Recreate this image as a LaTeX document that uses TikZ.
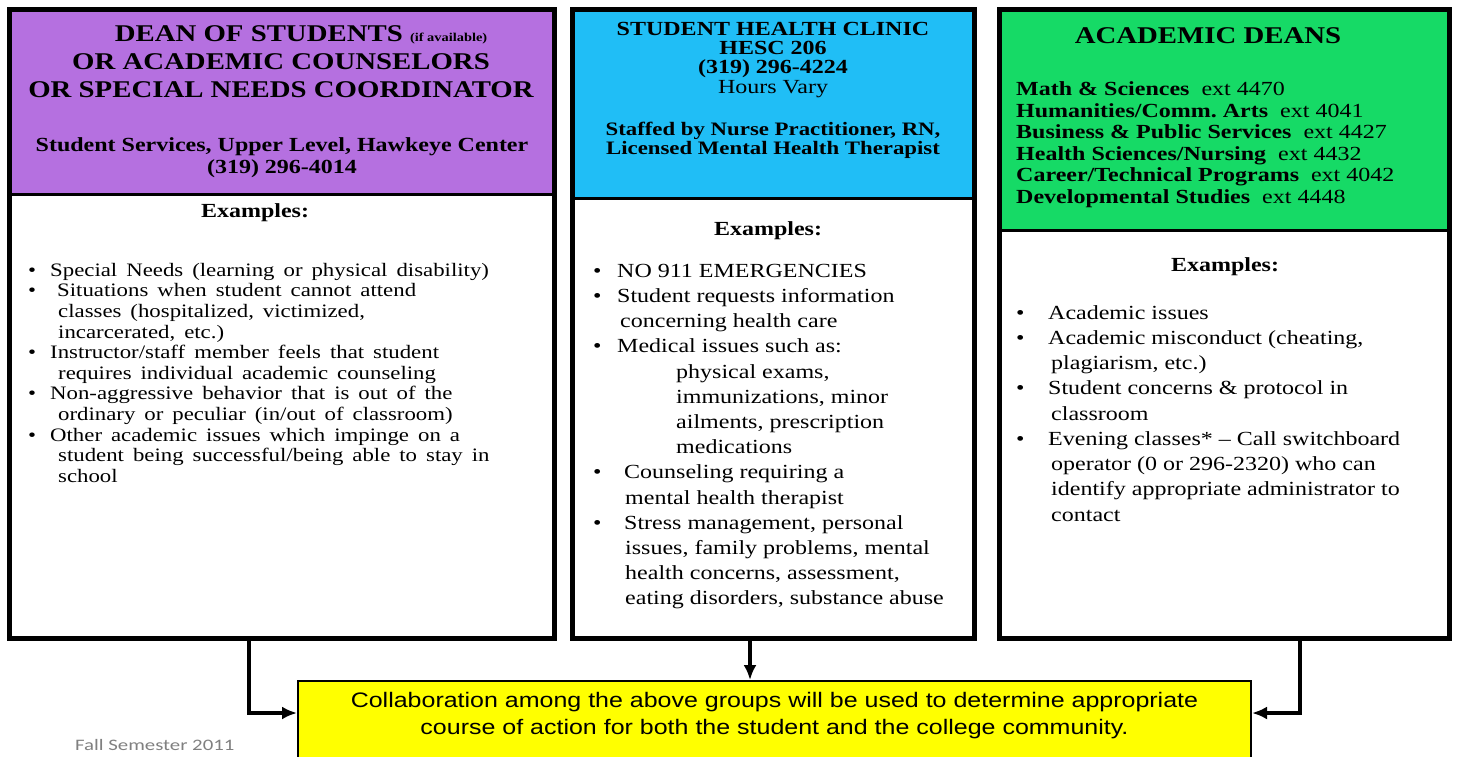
\documentclass[tikz,border=0pt]{standalone}
\usepackage{fontspec}
\setmainfont[FakeStretch=1.2]{Liberation Serif}
\newfontfamily\notefont[FakeStretch=1.19]{Liberation Sans}
\newfontfamily\datefont[FakeStretch=1.3]{Carlito}
\usetikzlibrary{arrows.meta}

\definecolor{deanpurple}{RGB}{181,112,224}
\definecolor{clinicblue}{RGB}{32,190,246}
\definecolor{deangreen}{RGB}{22,218,102}
\definecolor{noteyellow}{RGB}{255,255,0}
\definecolor{dategray}{RGB}{128,128,128}

% bullet column + text column
\newcommand{\exlist}[2]{\begin{tabular}{@{}p{#1}@{}l@{}}#2\end{tabular}}
\newcommand{\bul}{\textbullet &}
\newcommand{\widespace}{\spaceskip=9pt plus 2pt\relax}

\begin{document}
\begin{tikzpicture}[x=1pt,y=-1pt,
    head/.style={inner sep=0pt, outer sep=0pt},
    panel/.style={draw, line width=5pt, inner sep=0pt, outer sep=0pt},
    rule/.style={line width=3pt},
    headtext/.style={inner sep=0pt, anchor=north, align=center},
    extitle/.style={inner sep=0pt, anchor=base, font=\bfseries\fontsize{20}{24}\selectfont},
    itemlist/.style={inner sep=0pt, anchor=north west, align=left},
    flow/.style={line width=3.5pt, -{Latex[length=15pt,width=13pt]}},
  ]
  \fill[white] (0,0) rectangle (1457,757);
  \useasboundingbox (0,0) rectangle (1457,757);

  % coloured heads
  \node[head, fill=deanpurple, minimum width=545pt, minimum height=184pt] (deanhead) at (282,102) {};
  \node[head, fill=clinicblue, minimum width=402pt, minimum height=188pt] (clinichead) at (773.5,104) {};
  \node[head, fill=deangreen, minimum width=450pt, minimum height=220pt] (deanshead) at (1224.5,120) {};

  % the three panels
  \node[panel, minimum width=545pt, minimum height=628pt] (dean) at (282,324) {};
  \node[panel, minimum width=402pt, minimum height=628pt] (clinic) at (773.5,324) {};
  \node[panel, minimum width=450pt, minimum height=628pt] (deans) at (1224.5,324) {};
  \draw[rule] (deanhead.south west) -- (deanhead.south east);
  \draw[rule] (clinichead.south west) -- (clinichead.south east);
  \draw[rule] (deanshead.south west) -- (deanshead.south east);

  % dean of students
  \node[headtext, font=\bfseries\fontsize{24}{28}\selectfont] (deantitle) at (281,25)
    {\hspace*{40pt}DEAN OF STUDENTS {\fontsize{12}{12}\selectfont(if available)}\\
     OR ACADEMIC COUNSELORS\\OR SPECIAL NEEDS COORDINATOR};
  \node[headtext, font=\bfseries\fontsize{20}{22}\selectfont] (deancontact) at (282,137)
    {Student Services, Upper Level, Hawkeye Center\\(319) 296-4014};
  \node[extitle] (deanex) at (255,218) {Examples:};
  \node[itemlist, font=\fontsize{19}{20.6}\selectfont\widespace] (deanlist) at (28,261.6) {\exlist{22pt}{
    \bul Special Needs (learning or physical disability)\\
    \bul \hspace*{7pt}Situations when student cannot attend\\
    & \hspace*{8pt}classes (hospitalized, victimized,\\
    & \hspace*{8pt}incarcerated, etc.)\\
    \bul Instructor/staff member feels that student\\
    & \hspace*{8pt}requires individual academic counseling\\
    \bul Non-aggressive behavior that is out of the\\
    & \hspace*{8pt}ordinary or peculiar (in/out of classroom)\\
    \bul Other academic issues which impinge on a\\
    & \hspace*{8pt}student being successful/being able to stay in\\
    & \hspace*{8pt}school}};

  % health clinic
  \node[headtext, font=\bfseries\fontsize{20}{19.3}\selectfont] (clinictitle) at (773,21.8)
    {STUDENT HEALTH CLINIC\\HESC 206\\(319) 296-4224\\{\mdseries Hours Vary}};
  \node[headtext, font=\bfseries\fontsize{19}{19}\selectfont] (clinicstaff) at (773,121.5)
    {Staffed by Nurse Practitioner, RN,\\Licensed Mental Health Therapist};
  \node[extitle] (clinicex) at (768,235) {Examples:};
  \node[itemlist, font=\fontsize{20}{25.2}\selectfont] (cliniclist) at (593,259.4) {\exlist{24pt}{
    \bul NO 911 EMERGENCIES\\
    \bul Student requests information\\
    & \hspace*{3pt}concerning health care\\
    \bul Medical issues such as:\\
    & \hspace*{59pt}physical exams,\\
    & \hspace*{59pt}immunizations, minor\\
    & \hspace*{59pt}ailments, prescription\\
    & \hspace*{59pt}medications\\
    \bul \hspace*{7pt}Counseling requiring a\\
    & \hspace*{8pt}mental health therapist\\
    \bul \hspace*{7pt}Stress management, personal\\
    & \hspace*{8pt}issues, family problems, mental\\
    & \hspace*{8pt}health concerns, assessment,\\
    & \hspace*{8pt}eating disorders, substance abuse}};

  % academic deans
  \node[inner sep=0pt, anchor=base, font=\bfseries\fontsize{24}{28}\selectfont] (deanstitle) at (1208,44) {ACADEMIC DEANS};
  \node[itemlist, font=\bfseries\fontsize{20}{21.6}\selectfont] (deansext) at (1016,81.4)
    {Math \& Sciences\ \ {\mdseries ext 4470}\\
     Humanities/Comm.\ Arts\ \ {\mdseries ext 4041}\\
     Business \& Public Services\ \ {\mdseries ext 4427}\\
     Health Sciences/Nursing\ \ {\mdseries ext 4432}\\
     Career/Technical Programs\ \ {\mdseries ext 4042}\\
     Developmental Studies\ \ {\mdseries ext 4448}};
  \node[extitle] (deansex) at (1225,271) {Examples:};
  \node[itemlist, font=\fontsize{20}{25.25}\selectfont] (deanslist) at (1016,301.3) {\exlist{32pt}{
    \bul Academic issues\\
    \bul Academic misconduct (cheating,\\
    & \hspace*{3pt}plagiarism, etc.)\\
    \bul Student concerns \& protocol in\\
    & \hspace*{3pt}classroom\\
    \bul Evening classes* -- Call switchboard\\
    & \hspace*{3pt}operator (0 or 296-2320) who can\\
    & \hspace*{3pt}identify appropriate administrator to\\
    & \hspace*{3pt}contact}};

  % shared outcome
  \node[draw, line width=2pt, fill=noteyellow, minimum width=953pt, minimum height=79pt,
        align=center, text depth=15pt, font=\notefont\fontsize{21}{27}\selectfont] (collab) at (774.5,720.5)
    {Collaboration among the above groups will be used to determine appropriate\\
     course of action for both the student and the college community.};

  \draw[flow] ([xshift=-33pt]dean.south) |- ([yshift=7.5pt]collab.west);
  \draw[flow] ([xshift=-23.5pt]clinic.south) -- ([xshift=-23.5pt]clinic.south |- collab.north);
  \draw[flow] ([xshift=75.5pt]deans.south) |- ([yshift=7.5pt]collab.east);

  \node[inner sep=0pt, anchor=base west, text=dategray, font=\datefont\fontsize{16}{18}\selectfont] (semester) at (75,750) {Fall Semester 2011};
\end{tikzpicture}
\end{document}
